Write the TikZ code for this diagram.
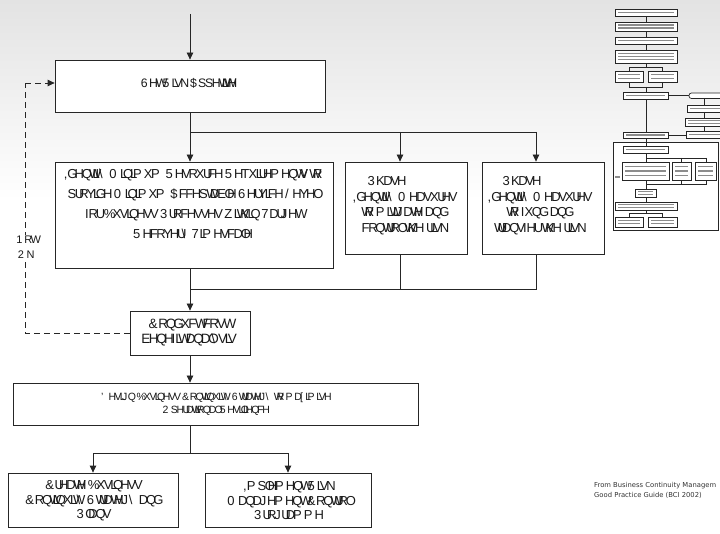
\documentclass[tikz,border=0pt]{standalone}
\usepackage{fontspec}
\setmainfont{Liberation Sans}
\newfontfamily\capfont{DejaVu Sans}
\usetikzlibrary{arrows.meta}

% \gtext{...}: each glyph is set in the advance width of the character
% whose code is 29 higher; "\" escapes the next character.
\ExplSyntaxOn
\bool_new:N \l__gtext_esc_bool
\box_new:N \l__gtext_box
\cs_new_protected:Npn \__gtext_put:n #1
  {
    \int_compare:nNnTF { `#1 } = { 32 }
      { \hspace*{ \fontdimen2\font } }
      {
        \hbox_set:Nn \l__gtext_box { \char_generate:nn { `#1 + 29 } { 12 } }
        \hbox_to_wd:nn { \box_wd:N \l__gtext_box }
          { \char_generate:nn { `#1 } { 12 } \hss }
      }
  }
\NewDocumentCommand \gtext { m }
  {
    \mode_leave_vertical:
    \bool_set_false:N \l__gtext_esc_bool
    \str_map_inline:nn {#1}
      {
        \bool_if:NTF \l__gtext_esc_bool
          {
            \bool_set_false:N \l__gtext_esc_bool
            \__gtext_put:n {##1}
          }
          {
            \int_compare:nNnTF { `##1 } = { 92 }
              { \bool_set_true:N \l__gtext_esc_bool }
              { \__gtext_put:n {##1} }
          }
      }
  }
\ExplSyntaxOff

\tikzset{
  box/.style={draw=black!85, line width=0.8pt, fill=white, inner sep=0pt},
  txt/.style={inner sep=0pt, align=center, text=black!90},
  ln/.style={line width=0.8pt, draw=black!85},
  arr/.style={ln, -{Triangle[length=7pt,width=6.5pt]}},
  dsh/.style={dash pattern=on 6pt off 4pt},
  lbl/.style={fill=white, inner sep=1pt, align=center, text=black!90,
    font=\fontsize{11}{15}\selectfont},
  tbox/.style={draw=black!85, line width=0.7pt, fill=white},
  tln/.style={line width=0.6pt, draw=black!85},
  tbar/.style={line width=1.1pt, draw=black!45},
}

\begin{document}
\begin{tikzpicture}[x=1pt, y=-1pt]
\useasboundingbox (0,0) rectangle (720,534);
\fill[white] (0,0) rectangle (720,534);
\shade[top color=black!11, bottom color=white] (0,0) rectangle (720,200);

% boxes of the main flow (frames, then their texts)
\node[box, minimum width=270pt, minimum height=52pt] (b1) at (190,86) {};
\node[box, minimum width=278pt, minimum height=106pt] (b2) at (194,215) {};
\node[box, minimum width=122pt, minimum height=92pt] (b3) at (406,208) {};
\node[box, minimum width=122pt, minimum height=92pt] (b4) at (543,208) {};
\node[box, minimum width=120pt, minimum height=44pt] (b5) at (190,333) {};
\node[box, minimum width=405pt, minimum height=42pt] (b6) at (215.5,404) {};
\node[box, minimum width=170pt, minimum height=54pt] (b7) at (93,500) {};
\node[box, minimum width=166pt, minimum height=54pt] (b8) at (288,500) {};

\node[txt, font=\fontsize{12.3}{15}\selectfont] (b1t) at (188,83)
  {\gtext{6HW 5LVN \$SSHWLWH}};
\node[txt, font=\fontsize{13}{20}\selectfont] (b2t) at (192,204)
  {\gtext{,GHQWLI\\ 0LQLPXP 5HVRXUFH 5HTXLUHPHQWV WR}\\
   \gtext{SURYLGH 0LQLPXP \$FFHSWDEOH 6HUYLFH /HYHO}\\
   \gtext{IRU \%XVLQHVV 3URFHVVHV ZLWKLQ 7DUJHW}\\
   \gtext{5HFRYHU\\ 7LPHVFDOH}};
\node[txt, font=\fontsize{13}{15.5}\selectfont] (b3t) at (404,205.5)
  {\gtext{3KDVH}\hspace*{36pt}\\
   \gtext{,GHQWLI\\ 0HDVXUHV}\\
   \gtext{WR PLWLJDWH DQG}\\
   \gtext{FRQWURO WKH ULVN}};
\node[txt, font=\fontsize{13}{15.5}\selectfont] (b4t) at (539,205.5)
  {\gtext{3KDVH}\hspace*{36pt}\\
   \gtext{,GHQWLI\\ 0HDVXUHV}\\
   \gtext{WR IXQG DQG}\\
   \gtext{WUDQVIHU WKH ULVN}};
\node[txt, font=\fontsize{13.5}{15}\selectfont] (b5t) at (188,333)
  {\gtext{\&RQGXFW FRVW}\\
   \gtext{EHQHILW DQDO\\VLV}};
\node[txt, font=\fontsize{10.5}{12.5}\selectfont] (b6t) at (215.5,404)
  {\gtext{'HVLJQ \%XVLQHVV \&RQWLQXLW\\ 6WUDWHJ\\ WR PD[LPLVH}\\
   \gtext{2SHUDWLRQDO 5HVLOLHQFH}};
\node[txt, font=\fontsize{13}{14.5}\selectfont] (b7t) at (93,501)
  {\gtext{\&UHDWH \%XVLQHVV}\\
   \gtext{\&RQWLQXLW\\ 6WUDWHJ\\ DQG}\\
   \gtext{3ODQV}};
\node[txt, font=\fontsize{13}{14.5}\selectfont] (b8t) at (288,501)
  {\gtext{,PSOHPHQW 5LVN}\\
   \gtext{0DQDJHPHQW \&RQWURO}\\
   \gtext{3URJUDPPH}};

% connectors
\coordinate (in) at (190,14);
\draw[arr] (in) -- (in |- b1.north);
\coordinate (s1) at (190,132);
\coordinate (a3) at (400,0);
\coordinate (a4) at (536,0);
\draw[ln] (s1 |- b1.south) -- (s1) -- (s1 -| a4);
\draw[arr] (s1) -- (s1 |- b2.north);
\draw[arr] (s1 -| a3) -- (a3 |- b3.north);
\draw[arr] (s1 -| a4) -- (a4 |- b4.north);

\coordinate (m1) at (190,289);
\draw[ln] (a3 |- b3.south) |- (m1);
\draw[ln] (a4 |- b4.south) |- (m1);
\draw[arr] (m1 |- b2.south) -- (b5.north);

\coordinate (fb) at (25,0);
\draw[ln, dsh] (b5.west) -- (b5.west -| fb) -- (b1t -| fb);
\draw[arr, dsh] (b1t -| fb) -- (b1t -| b1.west);
\node[lbl] (nok) at (25,247) {\gtext{1RW}\\\gtext{2N}};

\draw[arr] (b5.south) -- (b5.south |- b6.north);
\coordinate (s2) at (190,453);
\draw[ln] (b5.south |- b6.south) -- (s2);
\draw[ln] (s2 -| b7.north) -- (s2 -| b8.north);
\draw[arr] (s2 -| b7.north) -- (b7.north);
\draw[arr] (s2 -| b8.north) -- (b8.north);

% source note
\node[anchor=north west, inner sep=0pt, align=left, text=black!80,
  font=\capfont\fontsize{6.8}{10}\selectfont] (src) at (594,482)
  {From Business Continuity Managem\\Good Practice Guide (BCI 2002)};

% miniature of the full process chart
\draw[tbox] (613,142) rectangle (718,230);
\draw[tln] (646,16) -- (646,22);
\draw[tln] (646,31) -- (646,37);
\draw[tln] (646,44) -- (646,50);
\draw[tln] (646,63) -- (646,67);
\draw[tln] (629,71) -- (629,67) -- (662,67) -- (662,71);
\draw[tln] (629,82) -- (629,87) -- (662,87) -- (662,82);
\draw[tln] (646,87) -- (646,92);
\draw[tln] (668,95.5) -- (689,95.5);
\draw[tln] (704,98) -- (704,105);
\draw[tln] (704,112) -- (704,118);
\draw[tln] (704,126) -- (704,131);
\draw[tln] (646,99) -- (646,132);
\draw[tln] (668,135) -- (686,135);
\draw[tln] (646,138) -- (646,146);
\draw[tln] (646,153) -- (646,162);
\draw[tln] (646,158) -- (706,158);
\draw[tln] (681,158) -- (681,162);
\draw[tln] (706,158) -- (706,162);
\draw[tln] (646,180) -- (646,189);
\draw[tln] (681,180) -- (681,184) -- (706,184) -- (706,180);
\draw[tln] (646,184) -- (681,184);
\draw[tln] (646,197) -- (646,202);
\draw[tln] (646,210) -- (646,213.5);
\draw[tln] (629,217) -- (629,213.5) -- (662,213.5) -- (662,217);
\draw[tbox, rounded corners=2.5pt] (689,93) rectangle (724,98.5);
\foreach \xa/\ya/\xb/\yb/\n in {
  615/9/677/16/1, 615/22/677/31/2, 615/37/677/44/1, 615/50/677/63/3,
  615/71/643/82/2, 648/71/677/82/2, 623/92/668/99/1,
  687/105/724/112/1, 685/118/724/126/2, 686/131/724/138/1,
  623/132/668/138/1, 623/146/668/153/1,
  622/162/669/180/3, 672/162/691/180/3, 695/162/716/180/3,
  635/189/656/197/2, 615/202/677/210/2, 615/217/643/227/2, 648/217/677/227/2} {
  \draw[tbox] (\xa,\ya) rectangle (\xb,\yb);
  \foreach \k in {1,...,\n}
    \draw[tbar] ({\xa+3},{\ya+(\yb-\ya)*\k/(\n+1)}) -- ({\xb-3},{\ya+(\yb-\ya)*\k/(\n+1)});
}
\draw[tbar] (615,177) -- (620,177);
\end{tikzpicture}
\end{document}
